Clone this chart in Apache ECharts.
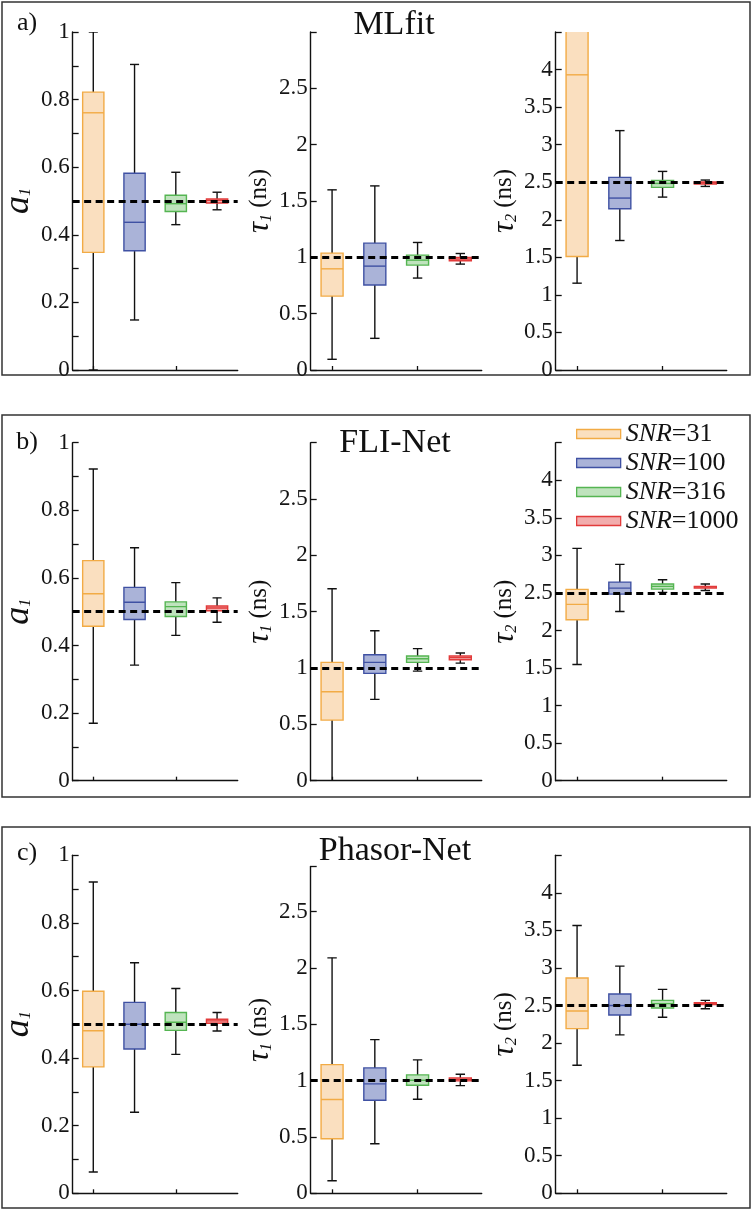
<!DOCTYPE html>
<html>
<head>
<meta charset="utf-8">
<script src="https://cdn.jsdelivr.net/npm/echarts@6/dist/echarts.min.js"></script>
<style>
html,body{margin:0;padding:0;background:#fff;}
#chart{width:753px;height:1211px;}
</style>
</head>
<body>
<div id="chart"></div>
<script>
// ---- data ----
const categories = ['SNR=31', 'SNR=100', 'SNR=316', 'SNR=1000'];
const methods = ['MLfit', 'FLI-Net', 'Phasor-Net'];
const panelLetters = ['a)', 'b)', 'c)'];
const refValues = [0.5, 1.0, 2.5];
const axisMax = [[1, 3, 4.5], [1, 3, 4.5], [1, 2.9, 4.5]];
const axisInterval = [0.2, 0.5, 0.5];
// each box: [min, Q1, median, Q3, max]
const mlfitA1 = [[0.0, 0.348, 0.761, 0.822, 1.0], [0.148, 0.353, 0.437, 0.582, 0.904], [0.43, 0.469, 0.492, 0.517, 0.585], [0.474, 0.494, 0.502, 0.506, 0.526]];
const mlfitTau1 = [[0.095, 0.656, 0.898, 1.037, 1.599], [0.281, 0.754, 0.922, 1.126, 1.634], [0.816, 0.931, 0.975, 1.02, 1.132], [0.94, 0.97, 0.985, 1.0, 1.034]];
const mlfitTau2 = [[1.156, 1.511, 3.93, 4.8, 5.6], [1.724, 2.147, 2.289, 2.564, 3.187], [2.302, 2.431, 2.484, 2.524, 2.644], [2.444, 2.476, 2.493, 2.502, 2.529]];
const fliA1 = [[0.17, 0.457, 0.553, 0.651, 0.922], [0.342, 0.477, 0.528, 0.572, 0.689], [0.43, 0.486, 0.515, 0.529, 0.586], [0.469, 0.503, 0.511, 0.517, 0.541]];
const fliTau1 = [[0.0, 0.538, 0.79, 1.05, 1.704], [0.722, 0.953, 1.05, 1.118, 1.331], [0.973, 1.05, 1.083, 1.107, 1.172], [1.044, 1.074, 1.092, 1.107, 1.133]];
const fliTau2 = [[1.547, 2.142, 2.347, 2.547, 3.093], [2.253, 2.484, 2.564, 2.644, 2.88], [2.507, 2.551, 2.587, 2.618, 2.676], [2.533, 2.564, 2.578, 2.587, 2.618]];
const phasorA1 = [[0.063, 0.374, 0.481, 0.598, 0.921], [0.24, 0.427, 0.5, 0.565, 0.682], [0.411, 0.482, 0.506, 0.535, 0.606], [0.48, 0.503, 0.51, 0.515, 0.535]];
const phasorTau1 = [[0.112, 0.484, 0.832, 1.142, 2.09], [0.44, 0.826, 0.971, 1.113, 1.364], [0.835, 0.959, 1.004, 1.051, 1.184], [0.956, 0.998, 1.009, 1.024, 1.057]];
const phasorTau2 = [[1.705, 2.193, 2.427, 2.866, 3.566], [2.109, 2.374, 2.5, 2.653, 3.025], [2.343, 2.467, 2.525, 2.569, 2.715], [2.458, 2.512, 2.529, 2.538, 2.569]];

const panelData = [
  [mlfitA1, mlfitTau1, mlfitTau2],
  [fliA1, fliTau1, fliTau2],
  [phasorA1, phasorTau1, phasorTau2]
];

// ---- styles ----
const fills = ['#fadfbf', '#aab3d8', '#bfe3bd', '#f2adad'];
const strokes = ['#f2ab45', '#3f51a3', '#55b552', '#e23b3b'];
const FONT = '"Liberation Serif", "DejaVu Serif", serif';
const gridLefts = [66.7, 310.7, 555.7];
const gridWidth = 171;
const panelBottoms = [370, 780.7, 1193.3];
const panelHeight = 338;
const panelBoxes = [[2, 2, 748, 373], [2, 415, 748, 382], [2, 827, 748, 381]];
const titleCenters = [[394, 25], [395, 443], [395, 851]];
const letterCenters = [[27, 23], [27, 442], [27, 853]];
const nameGaps = [25, 24, 26];

const axisNames = [
  '{a|a}{s|1}',
  '{v|τ}{s|1}{n| (ns)}',
  '{v|τ}{s|2}{n| (ns)}'
];
const nameRich = {
  a: {fontFamily: FONT, fontStyle: 'italic', fontSize: 36, lineHeight: 30, color: '#111'},
  v: {fontFamily: FONT, fontStyle: 'italic', fontSize: 31, lineHeight: 30, color: '#111'},
  s: {fontFamily: FONT, fontStyle: 'italic', fontSize: 16, lineHeight: 12, verticalAlign: 'bottom', color: '#111'},
  n: {fontFamily: FONT, fontSize: 25, lineHeight: 30, color: '#111'}
};

function makeRender(k) {
  return function (params, api) {
    const x = api.value(0);
    const pMed = api.coord([x, api.value(3)]);
    const cx = pMed[0];
    const yMin = api.coord([x, api.value(1)])[1];
    const yQ1 = api.coord([x, api.value(2)])[1];
    const yQ3 = api.coord([x, api.value(4)])[1];
    const yMax = api.coord([x, api.value(5)])[1];
    const band = api.size([1, 0])[0];
    const bw = band * 0.515;
    const cw = band * 0.22;
    const wStyle = {stroke: '#111', lineWidth: 1.4};
    return {
      type: 'group',
      children: [
        {type: 'line', shape: {x1: cx, y1: yQ3, x2: cx, y2: yMax}, style: wStyle},
        {type: 'line', shape: {x1: cx, y1: yQ1, x2: cx, y2: yMin}, style: wStyle},
        {type: 'line', shape: {x1: cx - cw / 2, y1: yMax, x2: cx + cw / 2, y2: yMax}, style: wStyle},
        {type: 'line', shape: {x1: cx - cw / 2, y1: yMin, x2: cx + cw / 2, y2: yMin}, style: wStyle},
        {type: 'rect', shape: {x: cx - bw / 2, y: yQ3, width: bw, height: yQ1 - yQ3},
          style: {fill: fills[k], stroke: strokes[k], lineWidth: 1.4}},
        {type: 'line', shape: {x1: cx - bw / 2, y1: pMed[1], x2: cx + bw / 2, y2: pMed[1]},
          style: {stroke: strokes[k], lineWidth: 1.4}}
      ]
    };
  };
}

const grids = [], xAxes = [], yAxes = [], series = [], graphics = [];
let g = 0;
for (let p = 0; p < 3; p++) {
  graphics.push({type: 'rect', shape: {x: panelBoxes[p][0], y: panelBoxes[p][1], width: panelBoxes[p][2], height: panelBoxes[p][3]},
    style: {fill: null, stroke: '#333', lineWidth: 1.5}, z: -1, silent: true});
  graphics.push({type: 'text', x: titleCenters[p][0], y: titleCenters[p][1],
    style: {text: methods[p], font: '34px ' + FONT, fill: '#111', textAlign: 'center', textVerticalAlign: 'middle'}});
  graphics.push({type: 'text', x: letterCenters[p][0], y: letterCenters[p][1],
    style: {text: panelLetters[p], font: '26px ' + FONT, fill: '#111', textAlign: 'center', textVerticalAlign: 'middle'}});
  for (let q = 0; q < 3; q++) {
    const max = axisMax[p][q];
    const unitPx = panelHeight / axisMax[0][q];
    const h = max * unitPx;
    grids.push({left: gridLefts[q], width: gridWidth, top: panelBottoms[p] - h, height: h, containLabel: false});
    xAxes.push({
      type: 'category', gridIndex: g, data: categories, boundaryGap: true,
      axisLine: {show: true, lineStyle: {color: '#111', width: 1.4}},
      axisTick: {show: true, alignWithLabel: true, inside: true, length: 4, lineStyle: {color: '#111', width: 1.3}},
      axisLabel: {show: false}, splitLine: {show: false}
    });
    yAxes.push({
      type: 'value', gridIndex: g, min: 0, max: max, interval: axisInterval[q],
      axisLine: {show: true, lineStyle: {color: '#111', width: 1.4}},
      axisTick: {show: true, inside: true, length: 6, lineStyle: {color: '#111', width: 1.3}},
      minorTick: {show: q === 0, splitNumber: 2, length: 6, lineStyle: {color: '#111', width: 1.3}},
      splitLine: {show: false},
      axisLabel: {
        fontFamily: FONT, fontSize: 23, color: '#151515', margin: 3,
        formatter: (function (mx, qq) {
          return function (v) {
            if (qq > 0 && Math.abs(v - mx) < 1e-9) return '';
            return String(parseFloat(v.toFixed(2)));
          };
        })(max, q)
      },
      name: axisNames[q], nameLocation: 'middle', nameRotate: 90, nameGap: nameGaps[q],
      nameTextStyle: {rich: nameRich}
    });
    const boxes = panelData[p][q];
    for (let k = 0; k < 4; k++) {
      series.push({
        type: 'custom', name: categories[k], xAxisIndex: g, yAxisIndex: g,
        clip: true, renderItem: makeRender(k),
        encode: {x: 0, y: [1, 2, 3, 4, 5]},
        itemStyle: {color: fills[k], borderColor: strokes[k]},
        data: [[k].concat(boxes[k])],
        animation: false, silent: true
      });
    }
    series.push({
      type: 'line', name: 'ref' + g, xAxisIndex: g, yAxisIndex: g, data: [], z: 5,
      markLine: {
        silent: true, symbol: ['none', 'none'], animation: false,
        label: {show: false},
        lineStyle: {color: '#000', type: [7, 4.5], width: 2.8},
        data: [{yAxis: refValues[q]}]
      }
    });
    g++;
  }
}

const chart = echarts.init(document.getElementById('chart'), null, {renderer: 'canvas'});
chart.setOption({
  animation: false,
  backgroundColor: '#fff',
  grid: grids,
  xAxis: xAxes,
  yAxis: yAxes,
  series: series,
  graphic: {elements: graphics},
  legend: {
    orient: 'vertical', left: 571, top: 416, itemWidth: 44, itemHeight: 9, itemGap: 3,
    selectedMode: false,
    data: categories.map(function (c, i) {
      return {name: c, icon: 'rect', itemStyle: {color: fills[i], borderColor: strokes[i], borderWidth: 1.3}};
    }),
    formatter: function (name) {
      return '{i|SNR}{n|' + name.slice(3) + '}';
    },
    textStyle: {
      fontFamily: FONT, fontSize: 26, color: '#111', lineHeight: 25,
      rich: {
        i: {fontFamily: FONT, fontStyle: 'italic', fontSize: 26, lineHeight: 25, color: '#111'},
        n: {fontFamily: FONT, fontSize: 26, lineHeight: 25, color: '#111'}
      }
    }
  }
});
</script>
</body>
</html>
